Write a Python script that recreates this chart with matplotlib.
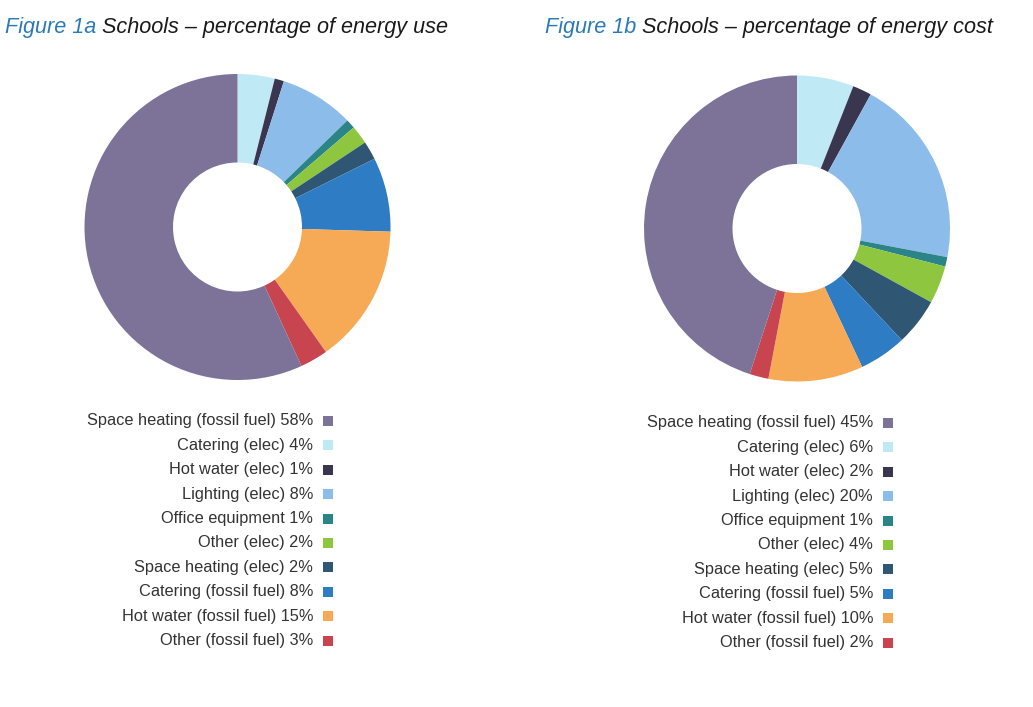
import matplotlib
matplotlib.use("Agg")
import matplotlib.pyplot as plt
from matplotlib.patches import Rectangle

plt.rcParams['font.family'] = ['Liberation Sans', 'DejaVu Sans']

# Legend order (first entry is drawn last in the ring)
categories = [
    "Space heating (fossil fuel)",
    "Catering (elec)",
    "Hot water (elec)",
    "Lighting (elec)",
    "Office equipment",
    "Other (elec)",
    "Space heating (elec)",
    "Catering (fossil fuel)",
    "Hot water (fossil fuel)",
    "Other (fossil fuel)",
]
energy_use = [58, 4, 1, 8, 1, 2, 2, 8, 15, 3]
energy_cost = [45, 6, 2, 20, 1, 4, 5, 5, 10, 2]
colors = [
    "#7d7399",  # space heating fossil
    "#bfe9f5",  # catering elec
    "#3b3650",  # hot water elec
    "#8cbcea",  # lighting
    "#2a8488",  # office
    "#8fc63f",  # other elec
    "#2f5673",  # space heating elec
    "#2e7cc4",  # catering fossil
    "#f7aa55",  # hot water fossil
    "#c8454f",  # other fossil
]
titles_a = ("Figure 1a", " Schools \u2013 percentage of energy use")
titles_b = ("Figure 1b", " Schools \u2013 percentage of energy cost")

W, H = 1033, 707
fig = plt.figure(figsize=(W / 100, H / 100), dpi=100)
fig.patch.set_facecolor("white")

def px_axes(cx, cy, r):
    return fig.add_axes([(cx - r) / W, 1 - (cy + r) / H, 2 * r / W, 2 * r / H])

def draw_donut(ax, vals):
    order_vals = vals[1:] + vals[:1]
    order_cols = colors[1:] + colors[:1]
    ax.pie(order_vals, colors=order_cols, startangle=90, counterclock=False,
           wedgeprops=dict(width=1 - 64.5 / 153, linewidth=0))
    ax.set_xlim(-1, 1)
    ax.set_ylim(-1, 1)
    ax.set_aspect("equal")
    ax.axis("off")

ax1 = px_axes(237.5, 227, 153)
draw_donut(ax1, energy_use)
ax2 = px_axes(797, 228.5, 153)
draw_donut(ax2, energy_cost)

lax = fig.add_axes([0, 0, 1, 1])
lax.set_xlim(0, W)
lax.set_ylim(H, 0)
lax.axis("off")

def title(x, y, parts):
    t1 = lax.text(x, y, parts[0], color="#2a7ab8", fontsize=15.6, style="italic",
                  ha="left", va="center")
    lax.annotate(parts[1], xy=(1, 0.5), xycoords=t1, va="center", ha="left",
                 color="#1a1a1a", fontsize=15.6, style="italic")

title(5, 28, titles_a)
title(545, 28, titles_b)

def legend(xr, y0, vals):
    step = 24.4
    for i, (cat, v, c) in enumerate(zip(categories, vals, colors)):
        y = y0 + i * step
        lax.text(xr, y, f"{cat} {v}%", ha="right", va="center", fontsize=11.8,
                 color="#333333")
        lax.add_patch(Rectangle((xr + 10, y - 5), 10, 10, facecolor=c,
                                edgecolor="none"))

legend(313, 421, energy_use)
legend(873, 423, energy_cost)

fig.savefig("out.png", dpi=100, facecolor="white")
